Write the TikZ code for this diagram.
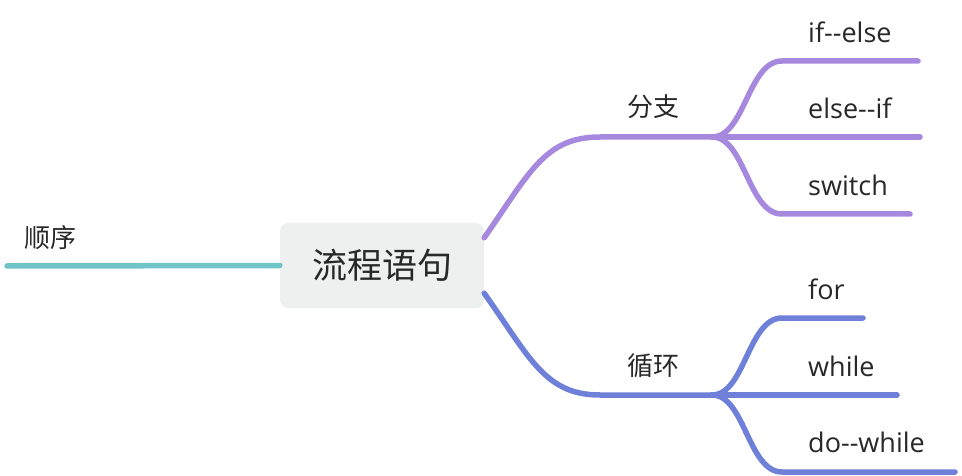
\documentclass[tikz,border=0pt]{standalone}
\usepackage{fontspec}
\setmainfont{Open Sans}
\newfontfamily\cjk{Noto Sans CJK SC}
\definecolor{tealc}{RGB}{112,196,200}
\definecolor{purp}{RGB}{166,136,222}
\definecolor{bluec}{RGB}{110,128,216}
\definecolor{boxfill}{RGB}{238,240,239}
\definecolor{txt}{RGB}{40,40,40}
\begin{document}
\begin{tikzpicture}[x=1pt,y=-1pt,
  lbl/.style={inner sep=0pt, anchor=west, text=txt, font=\fontsize{27}{31}\selectfont},
  cjklbl/.style={inner sep=0pt, text=txt, font=\cjk\fontsize{26}{30}\selectfont},
  branch/.style={line width=5.5pt, line cap=round},
]
\useasboundingbox (0,0) rectangle (962,476);
% central
\node[fill=boxfill, rounded corners=8pt, minimum width=204pt, minimum height=85pt, inner sep=0pt,
  text=txt, font=\cjk\fontsize{35}{40}\selectfont] (root) at (382,265.5) {流程语句};
% left
\coordinate (sxL) at (7,266);
\node[cjklbl, anchor=west] (shunxu) at (24,238) {顺序};
\draw[branch, tealc] (root.west) -- (sxL);
% branch 1
\coordinate (b1) at (712,137);
\node[cjklbl] (fenzhi) at (653,107) {分支};
\draw[branch, purp] ([yshift=-15pt]root.north east) .. controls (530,172) and (545,137) .. (600,137) -- (b1);
\coordinate (e1) at (918,61);
\coordinate (e2) at (920,137);
\coordinate (e3) at (910,214);
\node[lbl] (ifelse) at (808,32) {if{-}{-}else};
\node[lbl] (elseif) at (808,108) {else{-}{-}if};
\node[lbl] (switch) at (808,185) {switch};
\draw[branch, purp] (b1) .. controls (745,137) and (748,61) .. (782,61) -- (e1);
\draw[branch, purp] (b1) -- (e2);
\draw[branch, purp] (b1) .. controls (745,137) and (748,214) .. (782,214) -- (e3);
% branch 2
\coordinate (b2) at (712,395);
\node[cjklbl] (xunhuan) at (653,366) {循环};
\draw[branch, bluec] ([yshift=15pt]root.south east) .. controls (530,358) and (545,395) .. (600,395) -- (b2);
\coordinate (f1) at (863,318);
\coordinate (f2) at (897,395);
\coordinate (f3) at (955,472);
\node[lbl] (for) at (808,289) {for};
\node[lbl] (while) at (808,366) {while};
\node[lbl] (dowhile) at (808,442) {do{-}{-}while};
\draw[branch, bluec] (b2) .. controls (745,395) and (748,318) .. (782,318) -- (f1);
\draw[branch, bluec] (b2) -- (f2);
\draw[branch, bluec] (b2) .. controls (745,395) and (748,472) .. (782,472) -- (f3);
\end{tikzpicture}
\end{document}
